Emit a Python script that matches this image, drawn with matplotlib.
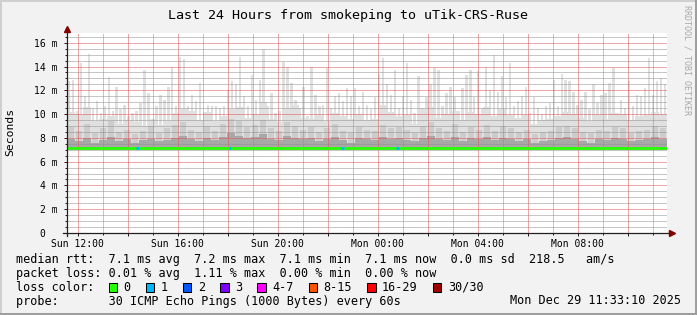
import numpy as np
import matplotlib.pyplot as plt
from matplotlib.patches import Rectangle

W, H = 697, 315
MONO = 'DejaVu Sans Mono'
plt.rcParams['font.family'] = MONO

# time axis: hours since Sun 00:00
start_hour = 11.58
span_hours = 24.0

# smoke layers (ms) left to right
top_ms = [12.75, 12.9, 10.25, 14.3, 11.5, 15.05, 10.5, 11.1, 10.1, 10.7, 13.1, 10.25, 12.3, 10.4, 10.8, 9.8,
          10.1, 10.25, 10.9, 13.7, 11.8, 9.3, 10.7, 11.6, 11.2, 12.3, 14.0, 10.7, 14.8, 14.6, 10.7, 11.6,
          11.1, 12.6, 10.1, 10.8, 10.7, 10.7,
          10.5, 10.7, 12.05, 12.75, 12.5, 14.8, 11.5, 10.7, 13.3, 11.2, 12.9, 15.5, 10.7, 11.8, 10.1, 10.25,
          14.4, 14.0, 12.6, 11.2, 10.5, 12.3, 9.8, 14.0, 11.6, 10.7, 10.8, 13.9, 10.5, 11.5, 11.8, 11.1,
          12.2, 11.5, 12.2, 10.7, 11.9, 10.8,
          10.4, 11.4, 13.4, 14.7, 12.5, 11.6, 13.7, 10.5, 11.5, 14.3, 11.2, 10.1, 13.2, 10.5, 11.4, 12.5,
          13.9, 13.7, 10.7, 11.8, 12.3, 11.4, 10.25, 12.2, 13.3, 13.7, 11.4, 13.6, 10.5, 14.0, 12.05, 15.0,
          11.9, 13.2, 11.4, 14.3, 10.7, 11.1,
          11.5, 12.3, 10.1, 11.4, 10.5, 10.0, 10.7, 10.9, 12.9, 10.7, 13.4, 12.9, 12.75, 11.9, 10.8, 11.2,
          11.9, 10.4, 12.5, 10.9, 11.6, 11.8, 12.6, 13.9, 10.1, 11.2, 10.5, 12.75, 10.7, 11.6, 11.5, 12.2,
          14.7, 11.6, 12.75, 13.0, 12.5]
body_ms = [10.2, 10.0, 10.6, 9.4, 9.6, 9.8, 9.2, 9.5, 9.3, 9.0, 9.6, 9.1, 9.4, 10.1, 10.4, 10.3, 9.5, 10.2, 9.4,
           9.8, 10.4, 10.6, 9.7, 10.0, 11.0, 9.6, 9.3, 10.5, 10.8, 9.7, 9.6, 9.9, 9.4, 10.1, 9.8, 9.6, 10.0, 9.5,
           9.6, 10.8, 10.2, 9.8, 9.9, 9.2, 10.4, 10.6, 9.7, 10.0, 10.3, 9.5, 10.2, 10.0, 10.6, 9.8, 10.4, 9.9, 9.7,
           9.9, 9.2, 9.5, 9.6, 9.8, 10.2, 10.0, 9.7, 9.4, 9.9, 9.6, 10.1, 10.0, 9.5, 9.8, 9.9, 10.2, 10.0]
mid_ms = [8.9, 8.6, 9.2, 8.4, 8.8, 9.4, 8.5, 8.7, 8.3, 8.6, 9.0, 8.4, 8.8, 9.1, 9.3, 8.7, 8.5, 9.0, 8.6,
          9.2, 9.6, 9.4, 8.9, 9.1, 9.5, 8.8, 8.6, 9.3, 9.0, 8.7, 8.9, 8.5, 8.8, 9.2, 8.6, 8.4, 8.9, 8.7,
          8.6, 9.1, 8.8, 8.9, 8.7, 8.4, 9.0, 9.3, 8.8, 8.6, 9.2, 8.5, 8.9, 8.7, 9.1, 8.6, 9.0, 8.8, 8.5,
          8.7, 8.3, 8.5, 8.6, 8.9, 9.0, 8.8, 8.5, 8.4, 8.7, 8.6, 8.9, 8.8, 8.4, 8.6, 8.7, 9.0, 8.8]
low_ms = [7.9, 7.7, 8.0, 7.6, 7.8, 8.1, 7.7, 7.9, 7.6, 7.8, 7.9, 7.7, 7.8, 8.0, 8.2, 7.9, 7.7, 8.0, 7.8,
          8.1, 8.4, 8.2, 8.0, 8.1, 8.3, 7.9, 7.8, 8.2, 8.0, 7.9, 8.0, 7.7, 7.9, 8.1, 7.8, 7.6, 8.0, 7.9,
          7.8, 8.1, 7.9, 8.0, 7.8, 7.7, 8.0, 8.2, 7.9, 7.8, 8.1, 7.7, 8.0, 7.9, 8.1, 7.8, 8.0, 7.9, 7.7,
          7.9, 7.6, 7.7, 7.8, 8.0, 8.1, 7.9, 7.7, 7.6, 7.9, 7.8, 8.0, 7.9, 7.7, 7.8, 7.9, 8.1, 7.9]
median_ms = [7.15, 7.14, 7.16, 7.15, 7.13, 7.15, 7.17, 7.16, 7.14, 7.15, 7.16, 7.15, 7.14, 7.16, 7.18, 7.16,
             7.15, 7.14, 7.16, 7.15, 7.17, 7.16, 7.15, 7.14, 7.15, 7.16, 7.15, 7.14, 7.15, 7.16, 7.15, 7.14,
             7.15, 7.13, 7.15, 7.14, 7.15, 7.16, 7.15, 7.14, 7.15, 7.14, 7.13, 7.15, 7.14, 7.15, 7.14, 7.15,
             7.16, 7.15]
min_ms = 7.0
loss1_hours = [14.4, 18.1, 22.6, 24.8]   # intervals with 1/30 lost

x_tick_hours = [12, 16, 20, 24, 28, 32]
x_tick_labels = ['Sun 12:00', 'Sun 16:00', 'Sun 20:00', 'Mon 00:00', 'Mon 04:00', 'Mon 08:00']
y_ticks = [0, 2, 4, 6, 8, 10, 12, 14, 16]
y_tick_labels = ['0  ', '2 m', '4 m', '6 m', '8 m', '10 m', '12 m', '14 m', '16 m']

loss_labels = ['0', '1', '2', '3', '4-7', '8-15', '16-29', '30/30']
loss_colors = ['#26ff00', '#00b8ff', '#0059ff', '#7e00ff', '#ff00ff', '#ff5500', '#ff0000', '#a10000']


def steps(vals):
    n = len(vals)
    edges = start_hour + np.arange(n + 1) * span_hours / n
    return edges, np.append(vals, vals[-1])


def bars(ax, vals, frac, col):
    n = len(vals)
    w = span_hours / n
    c = start_hour + (np.arange(n) + 0.5) * w
    ax.bar(c, np.array(vals) - min_ms, bottom=min_ms, width=w * frac,
           color=col, linewidth=0, zorder=1)


def fx(x):
    return x / W


def fy(y):
    return 1 - y / H


fig = plt.figure(figsize=(W / 100, H / 100), dpi=100, facecolor='#f2f2f2')
ax = fig.add_axes([fx(67), fy(233), 600 / W, 200 / H])
ax.set_facecolor('white')

# smoke
bars(ax, top_ms, 0.6, '#e0e0e0')
bars(ax, body_ms, 0.9, '#e0e0e0')
bars(ax, mid_ms, 0.7, '#cccccc')
e, v = steps(low_ms)
ax.fill_between(e, min_ms, v, step='post', color='#a8a8a8', linewidth=0, zorder=1)

# median, coloured by loss
e, v = steps(median_ms)
ax.step(e, v, where='post', color=loss_colors[0], lw=2.0, zorder=4)
wm = span_hours / len(median_ms)
for t in loss1_hours:
    m = median_ms[int((t - start_hour) / wm)]
    ax.hlines(m, t - 0.05, t + 0.05, color=loss_colors[1], lw=2.0, zorder=5)

ax.set_xlim(start_hour, start_hour + span_hours)
ax.set_ylim(0, 200 / 11.89)

lab = dict(zip(x_tick_hours, x_tick_labels))
major_h = np.arange(12, 36, 2)
ax.set_xticks(major_h, [lab.get(int(h), '') for h in major_h])
ax.set_xticks(np.arange(12, 36, 1), minor=True)
ax.set_yticks(y_ticks, y_tick_labels)
ax.set_yticks(np.arange(0, 17, 0.5), minor=True)

ax.grid(which='major', color=(0.87, 0.31, 0.31, 0.28), linestyle=(0, (1, 1)), linewidth=0.72)
ax.grid(which='minor', color=(0.56, 0.56, 0.56, 0.35), linestyle=(0, (1, 1)), linewidth=0.72)
ax.set_axisbelow(False)

for s in ax.spines.values():
    s.set_visible(False)
ax.tick_params(axis='both', which='major', length=2.5, width=0.72, color='#212121',
               labelsize=7, pad=1.5)
ax.tick_params(axis='both', which='minor', length=1.5, width=0.72, color='#212121')
ax.tick_params(axis='y', which='major', pad=4)

# axis lines and arrows
ax.plot([0, 0], [-0.015, 1.01], color='#212121', lw=0.9, transform=ax.transAxes, clip_on=False, zorder=6)
ax.plot([-0.007, 1.006], [0, 0], color='#212121', lw=0.9, transform=ax.transAxes, clip_on=False, zorder=6)
ax.plot([0], [1.02], marker='^', ms=4.5, color='#800000', transform=ax.transAxes, clip_on=False, zorder=7)
ax.plot([1.008], [0], marker='>', ms=4.5, color='#800000', transform=ax.transAxes, clip_on=False, zorder=7)

# texts
fig.text(0.5, fy(18.5), 'Last 24 Hours from smokeping to uTik-CRS-Ruse', ha='center', va='baseline',
         fontsize=9.6)
fig.text(fx(10.5), fy(132), 'Seconds', rotation=90, ha='center', va='center', fontsize=8.2)
fig.text(fx(687.5), fy(60), 'RRDTOOL / TOBI OETIKER', rotation=270, ha='center', va='center',
         fontsize=6, color='#a8a8a8')

fs = 8.5
cw = fs * 100 / 72 * 0.602
fig.text(fx(16), fy(263), 'median rtt:  7.1 ms avg  7.2 ms max  7.1 ms min  7.1 ms now  0.0 ms sd  218.5   am/s',
         fontsize=fs, va='baseline')
fig.text(fx(16), fy(277), 'packet loss: 0.01 % avg  1.11 % max  0.00 % min  0.00 % now',
         fontsize=fs, va='baseline')
fig.text(fx(16), fy(291), 'loss color:', fontsize=fs, va='baseline')
fig.text(fx(16), fy(304.5), 'probe:       30 ICMP Echo Pings (1000 Bytes) every 60s', fontsize=fs, va='baseline')
fig.text(fx(681), fy(304.5), 'Mon Dec 29 11:33:10 2025', fontsize=fs, va='baseline', ha='right')

bx = 108.5
for lbl, col in zip(loss_labels, loss_colors):
    fig.add_artist(Rectangle((fx(bx), fy(291.5)), 8.5 / W, 9 / H, transform=fig.transFigure,
                             facecolor=col, edgecolor='black', lw=0.75))
    tx = bx + 14.8
    fig.text(fx(tx), fy(291), lbl, fontsize=fs, va='baseline')
    bx = tx + len(lbl) * cw + 15.3

# frame
fig.add_artist(Rectangle((0, fy(2)), 1, 2 / H, transform=fig.transFigure, color='#cfcfcf', lw=0))
fig.add_artist(Rectangle((0, 0), 2 / W, 1, transform=fig.transFigure, color='#cfcfcf', lw=0))
fig.add_artist(Rectangle((0, 0), 1, 2.5 / H, transform=fig.transFigure, color='#9e9e9e', lw=0))
fig.add_artist(Rectangle((fx(694.5), 0), 2.5 / W, 1, transform=fig.transFigure, color='#9e9e9e', lw=0))

fig.savefig('out.png', dpi=100, facecolor=fig.get_facecolor())
